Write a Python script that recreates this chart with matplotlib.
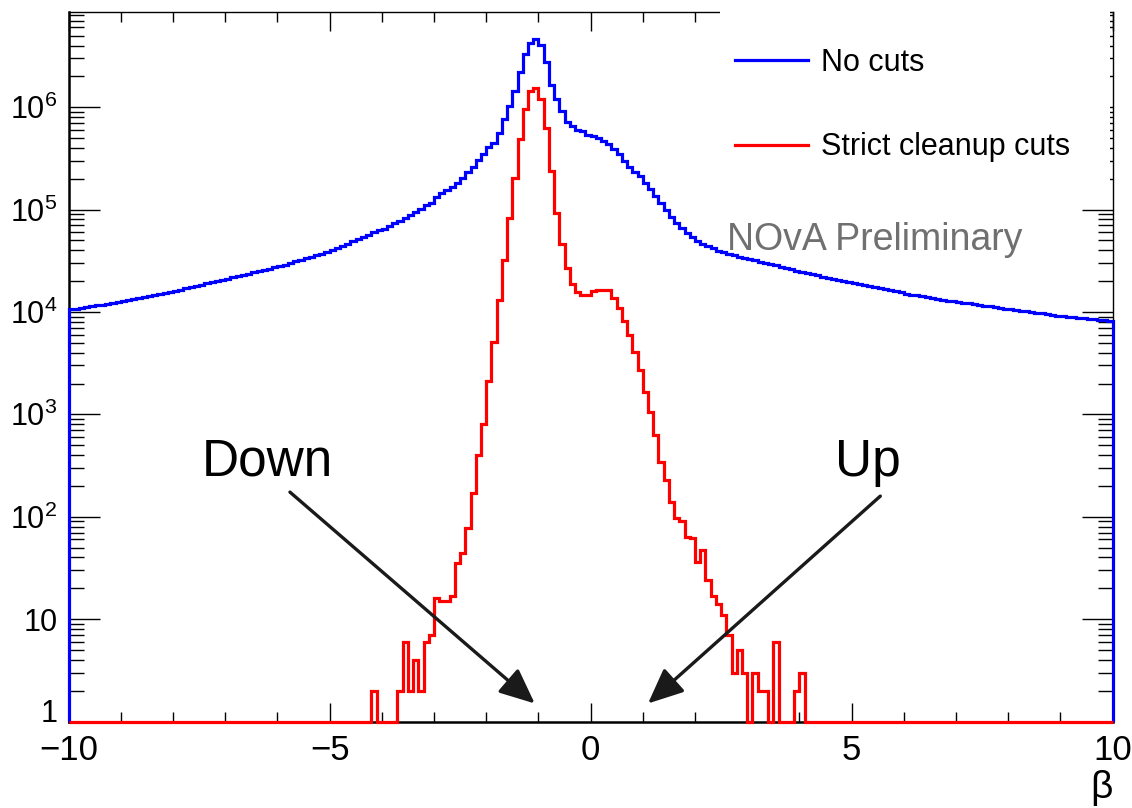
import numpy as np
import matplotlib
matplotlib.use("Agg")
import matplotlib.pyplot as plt
from matplotlib.lines import Line2D
from matplotlib.patches import Rectangle
from matplotlib.ticker import FixedLocator, LogLocator, MultipleLocator, NullFormatter

plt.rcParams['font.family'] = ['Liberation Sans', 'DejaVu Sans']
plt.rcParams['mathtext.fontset'] = 'custom'
plt.rcParams['mathtext.rm'] = 'Liberation Sans'
plt.rcParams['mathtext.it'] = 'Liberation Sans:italic'

# histogram binning (200 bins in beta)
BETA_MIN, BETA_MAX, N_BINS = -10.0, 10.0, 200

# entries per bin, no cuts applied
NO_CUTS = [
    10600, 10800, 11000, 11200, 11400, 11600, 11800, 12000, 12200, 12500,
    12700, 13000, 13300, 13600, 13900, 14300, 14600, 15000, 15300, 15700,
    16100, 16500, 17000, 17500, 17900, 18500, 19000, 19500, 20000, 20600,
    21200, 21800, 22400, 23000, 23700, 24300, 25000, 25700, 26400, 27200,
    28000, 29000, 30000, 31100, 32200, 33300, 34500, 35700, 37000, 38300,
    39900, 42000, 44200, 46500, 48900, 51400, 54100, 56900, 59800, 63000,
    65300, 69200, 73300, 77600, 83200, 89100, 95500, 102000, 110000, 117000,
    132000, 145000, 155000, 166000, 182000, 204000, 234000, 263000, 302000, 347000,
    407000, 447000, 562000, 759000, 1020000, 1450000, 2190000, 3310000, 4270000, 4680000,
    4070000, 2750000, 1660000, 1200000, 912000, 724000, 661000, 603000, 589000, 537000,
    525000, 501000, 468000, 437000, 389000, 347000, 295000, 263000, 234000, 214000,
    182000, 158000, 135000, 117000, 100000, 85100, 74100, 66100, 58900, 53700,
    49000, 45700, 43700, 41700, 39800, 38500, 37200, 35900, 34700, 33900,
    33100, 32000, 30900, 30200, 29200, 28500, 27500, 26900, 26000, 25100,
    24500, 24000, 23400, 22900, 22100, 21600, 21100, 20700, 20200, 19700,
    19300, 18800, 18400, 18000, 17600, 17200, 16800, 16400, 16000, 15700,
    15000, 14700, 14500, 14200, 13900, 13700, 13400, 13200, 12900, 12700,
    12500, 12300, 12100, 11900, 11700, 11500, 11400, 11200, 11000, 10800,
    10600, 10500, 10300, 10100, 9980, 9820, 9660, 9500, 9350, 9190,
    9060, 8960, 8870, 8770, 8680, 8590, 8500, 8400, 8320, 8230,
]

# entries per bin after strict cleanup cuts, bins 58..140 (rest are empty)
STRICT_FIRST_BIN = 58
STRICT_CORE = [
    2, 0, 0, 0, 0, 2, 6, 2, 4, 2, 6, 7,
    16, 15, 15, 17, 35, 44, 77, 170, 400, 810,
    2100, 5100, 13000, 32400, 83200, 204000, 484000, 955000, 1440000, 1550000,
    1200000, 631000, 237000, 93300, 45700, 26900, 18600, 15500, 14800, 14800,
    15900, 16500, 16500, 16200, 13700, 10900, 8070, 6000, 4100, 2720,
    1660, 1060, 630, 345, 228, 140, 97, 90, 64, 62,
    36, 47, 24, 17, 14, 11, 7, 3, 5, 3,
    0, 3, 2, 2, 0, 6, 0, 0, 0, 2, 3,
]
STRICT_CUTS = ([0] * STRICT_FIRST_BIN + STRICT_CORE
               + [0] * (N_BINS - STRICT_FIRST_BIN - len(STRICT_CORE)))

SERIES_LABELS = ['No cuts', 'Strict cleanup cuts']
SERIES_COLORS = ['#0000ff', '#ff0000']

X_TICKS = [-10, -5, 0, 5, 10]
X_TICK_LABELS = ['\u221210', '\u22125', '0', '5', '10']
Y_TICKS = [1, 10, 1e2, 1e3, 1e4, 1e5, 1e6]
Y_TICK_LABELS = ['1', '10', '$10^{2}$', '$10^{3}$', '$10^{4}$', '$10^{5}$', '$10^{6}$']
Y_MIN, Y_MAX = 1, 8.5e6

W, H = 1132, 808
fig = plt.figure(figsize=(W / 100, H / 100), dpi=100)
ax = fig.add_axes([68.6 / W, 1 - 721.5 / H, (1112.6 - 68.6) / W, (721.5 - 12) / H])

edges = np.linspace(BETA_MIN, BETA_MAX, N_BINS + 1)
for vals, col in zip([NO_CUTS, STRICT_CUTS], SERIES_COLORS):
    ax.stairs(np.clip(vals, Y_MIN, None), edges, baseline=Y_MIN, color=col,
              lw=2.3, zorder=3, clip_on=False)

ax.set_yscale('log')
ax.set_xlim(BETA_MIN, BETA_MAX)
ax.set_ylim(Y_MIN, Y_MAX)

ax.xaxis.set_major_locator(FixedLocator(X_TICKS))
ax.set_xticklabels(X_TICK_LABELS)
ax.xaxis.set_minor_locator(MultipleLocator(1))
ax.yaxis.set_major_locator(FixedLocator(Y_TICKS))
ax.set_yticklabels(Y_TICK_LABELS)
ax.yaxis.set_minor_locator(LogLocator(base=10, subs=np.arange(2, 10), numticks=20))
ax.yaxis.set_minor_formatter(NullFormatter())

ax.tick_params(which='both', direction='in', top=True, right=True, width=1.0, color='black')
ax.tick_params(axis='x', which='major', length=14, labelsize=25, pad=9)
ax.tick_params(axis='x', which='minor', length=7)
ax.tick_params(axis='y', which='major', length=22, labelsize=22, pad=8)
ax.tick_params(axis='y', which='minor', length=11)
for side in ['left', 'bottom']:
    ax.spines[side].set_linewidth(1.8)
for side in ['right', 'top']:
    ax.spines[side].set_linewidth(1.0)
# sit the "1" label on the axis so it clears the x labels
ax.get_yticklabels()[0].set_va('baseline')

ax.set_xlabel('\u03b2', fontsize=28, loc='right', labelpad=2)

# annotations for downward / upward going tracks
arrow_kw = dict(arrowstyle='-|>,head_length=0.9,head_width=0.4', color='#1a1a1a',
                lw=2.4, mutation_scale=24, shrinkA=0, shrinkB=0)
ax.annotate('', xy=(-1.07, 1.5), xytext=(-5.76, 174), arrowprops=arrow_kw, zorder=4)
ax.annotate('', xy=(1.10, 1.5), xytext=(5.55, 159), arrowprops=arrow_kw, zorder=4)
ax.text(-6.2, 342, 'Down', fontsize=37, ha='center', va='center')
ax.text(5.32, 342, 'Up', fontsize=37, ha='center', va='center')

# legend area sits on top of the frame
fig.add_artist(Rectangle((720 / W, 1 - 190 / H), (1110 - 720) / W, 190 / H,
                         transform=fig.transFigure, facecolor='white',
                         edgecolor='none', zorder=4))
handles = [Line2D([], [], color=c, lw=2.3) for c in SERIES_COLORS]
fig.legend(handles, SERIES_LABELS, loc='upper left', bbox_to_anchor=(735 / W, 1 - 48 / H),
           frameon=False, fontsize=22, handlelength=2.4, handletextpad=0.4,
           labelspacing=1.78, borderpad=0, borderaxespad=0)

fig.text(727 / W, 1 - 240 / H, 'NOvA Preliminary', fontsize=27, color='#707070',
         ha='left', va='center', zorder=6)

fig.savefig('out.png', dpi=100)
